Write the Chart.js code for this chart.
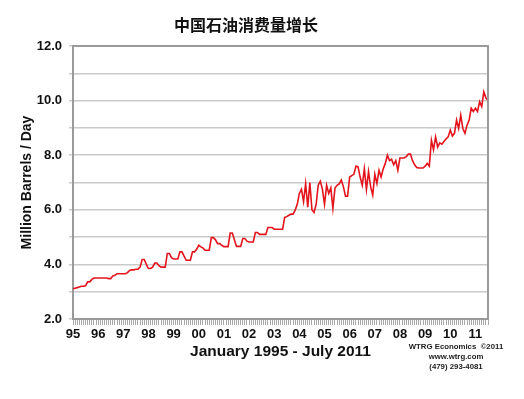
<!DOCTYPE html>
<html><head><meta charset="utf-8">
<script src="https://cdn.jsdelivr.net/npm/chart.js@4/dist/chart.umd.min.js"></script>
<style>html,body{margin:0;padding:0;background:#fff}</style>
</head><body>
<canvas id="c" width="524" height="399" style="width:524px;height:399px;display:block"></canvas>
<script>
const titleText = '中国石油消费量增长';
const yAxisTitle = 'Million Barrels / Day';
const xAxisTitle = 'January 1995 - July 2011';
const creditLines = ['WTRG Economics  \u00A92011', 'www.wtrg.com', '(479) 293-4081'];
const yearLabels = ['95','96','97','98','99','00','01','02','03','04','05','06','07','08','09','10','11'];

// Monthly consumption, million barrels/day
const y1995 = [3.11, 3.13, 3.15, 3.17, 3.2, 3.2, 3.22, 3.36, 3.36, 3.45, 3.5, 3.5];
const y1996 = [3.5, 3.5, 3.5, 3.5, 3.5, 3.48, 3.48, 3.58, 3.6, 3.66, 3.66, 3.66];
const y1997 = [3.66, 3.66, 3.7, 3.78, 3.8, 3.8, 3.82, 3.82, 3.9, 4.18, 4.18, 4.0];
const y1998 = [3.85, 3.85, 3.9, 4.05, 4.05, 3.95, 3.9, 3.9, 3.9, 4.4, 4.4, 4.25];
const y1999 = [4.2, 4.2, 4.2, 4.46, 4.46, 4.3, 4.15, 4.15, 4.15, 4.46, 4.46, 4.55];
const y2000 = [4.7, 4.64, 4.6, 4.52, 4.52, 4.52, 4.98, 4.98, 4.9, 4.76, 4.76, 4.7];
const y2001 = [4.65, 4.65, 4.65, 5.15, 5.15, 4.9, 4.66, 4.66, 4.66, 4.95, 4.95, 4.85];
const y2002 = [4.82, 4.82, 4.82, 5.17, 5.17, 5.1, 5.1, 5.1, 5.1, 5.35, 5.35, 5.35];
const y2003 = [5.29, 5.29, 5.29, 5.29, 5.29, 5.72, 5.75, 5.8, 5.84, 5.84, 5.99, 6.2];
const y2004 = [6.6, 6.75, 6.3, 6.96, 6.1, 7.0, 6.0, 5.9, 6.2, 6.9, 7.05, 6.75];
const y2005 = [6.2, 6.9, 6.6, 6.8, 6.05, 6.8, 6.9, 6.95, 7.09, 6.85, 6.5, 6.5];
const y2006 = [7.2, 7.25, 7.3, 7.6, 7.57, 7.2, 6.9, 7.5, 6.75, 7.4, 6.85, 6.54];
const y2007 = [7.3, 6.96, 7.45, 7.2, 7.5, 7.7, 8.0, 7.8, 7.85, 7.65, 7.8, 7.45];
const y2008 = [7.9, 7.9, 7.9, 7.95, 8.04, 8.04, 7.8, 7.65, 7.55, 7.53, 7.53, 7.53];
const y2009 = [7.6, 7.7, 7.6, 8.55, 8.2, 8.67, 8.3, 8.45, 8.4, 8.5, 8.6, 8.67];
const y2010 = [8.92, 8.7, 8.8, 9.29, 8.98, 9.47, 8.98, 8.8, 9.1, 9.29, 9.72, 9.6];
const y2011 = [9.72, 9.6, 9.96, 9.78, 10.32, 10.1, 10.0];

const yearly = [y1995,y1996,y1997,y1998,y1999,y2000,y2001,y2002,y2003,y2004,y2005,y2006,y2007,y2008,y2009,y2010,y2011];
const values = [];
const categories = [];
yearly.forEach((arr, yi) => arr.forEach((v, mi) => {
  values.push(v);
  categories.push(yearLabels[yi] + '-' + String(mi + 1).padStart(2, '0'));
}));

const decor = {
  id: 'decor',
  afterDraw(chart) {
    const ctx = chart.ctx, a = chart.chartArea;
    ctx.save();
    ctx.strokeStyle = '#9a9a9a';
    ctx.lineWidth = 2;
    ctx.beginPath();
    ctx.moveTo(a.left, a.top); ctx.lineTo(a.right, a.top); ctx.lineTo(a.right, a.bottom);
    ctx.stroke();
    ctx.fillStyle = '#111';
    ctx.textAlign = 'center';
    ctx.textBaseline = 'middle';
    ctx.font = 'bold 16px "Noto Sans CJK SC"';
    ctx.fillText(titleText, 246, 25);
    ctx.font = 'bold 7.8px "Liberation Sans", Arial, sans-serif';
    ctx.fillStyle = '#222';
    const ys = [347, 357, 367];
    creditLines.forEach((t, i) => ctx.fillText(t, 456, ys[i]));
    ctx.restore();
  }
};

new Chart(document.getElementById('c'), {
  type: 'line',
  data: {
    labels: categories,
    datasets: [{
      data: values,
      borderColor: '#e3141c',
      borderWidth: 1.6,
      pointRadius: 0,
      tension: 0,
      fill: false
    }]
  },
  options: {
    responsive: false,
    animation: false,
    devicePixelRatio: 1,
    layout: { padding: { top: 46, right: 36, bottom: 0, left: 0 } },
    plugins: { legend: { display: false }, title: { display: false }, tooltip: { enabled: false } },
    scales: {
      x: {
        type: 'category',
        grid: { display: true, drawOnChartArea: false, drawTicks: true, tickLength: 6, color: '#a8a8a8', lineWidth: 1 },
        border: { display: true, color: '#9a9a9a', width: 2 },
        ticks: {
          autoSkip: false, maxRotation: 0, minRotation: 0, padding: 2,
          color: '#111',
          font: { family: '"Liberation Sans", Arial, sans-serif', weight: 'bold', size: 13 },
          callback: (v, i) => (i % 12 === 0 ? yearLabels[i / 12] : '')
        },
        title: {
          display: true, text: xAxisTitle, color: '#111',
          font: { family: '"Liberation Sans", Arial, sans-serif', weight: 'bold', size: 15.5 },
          padding: { top: 0, bottom: 38 }
        },
        afterFit: s => { s.height = 80; }
      },
      y: {
        min: 2, max: 12,
        grid: { color: '#cacaca', lineWidth: 1.5, tickLength: 4, drawTicks: true },
        border: { display: true, color: '#9a9a9a', width: 2 },
        ticks: {
          stepSize: 1, padding: 7, color: '#111',
          font: { family: '"Liberation Sans", Arial, sans-serif', weight: 'bold', size: 13 },
          callback: v => (v % 2 === 0 ? v.toFixed(1) : '')
        },
        title: {
          display: true, text: yAxisTitle, color: '#111',
          font: { family: '"Liberation Sans", Arial, sans-serif', weight: 'bold', size: 14 },
          padding: { top: 19, bottom: 0 }
        },
        afterFit: s => { s.width = 73; }
      }
    }
  },
  plugins: [decor]
});
</script>
</body></html>
